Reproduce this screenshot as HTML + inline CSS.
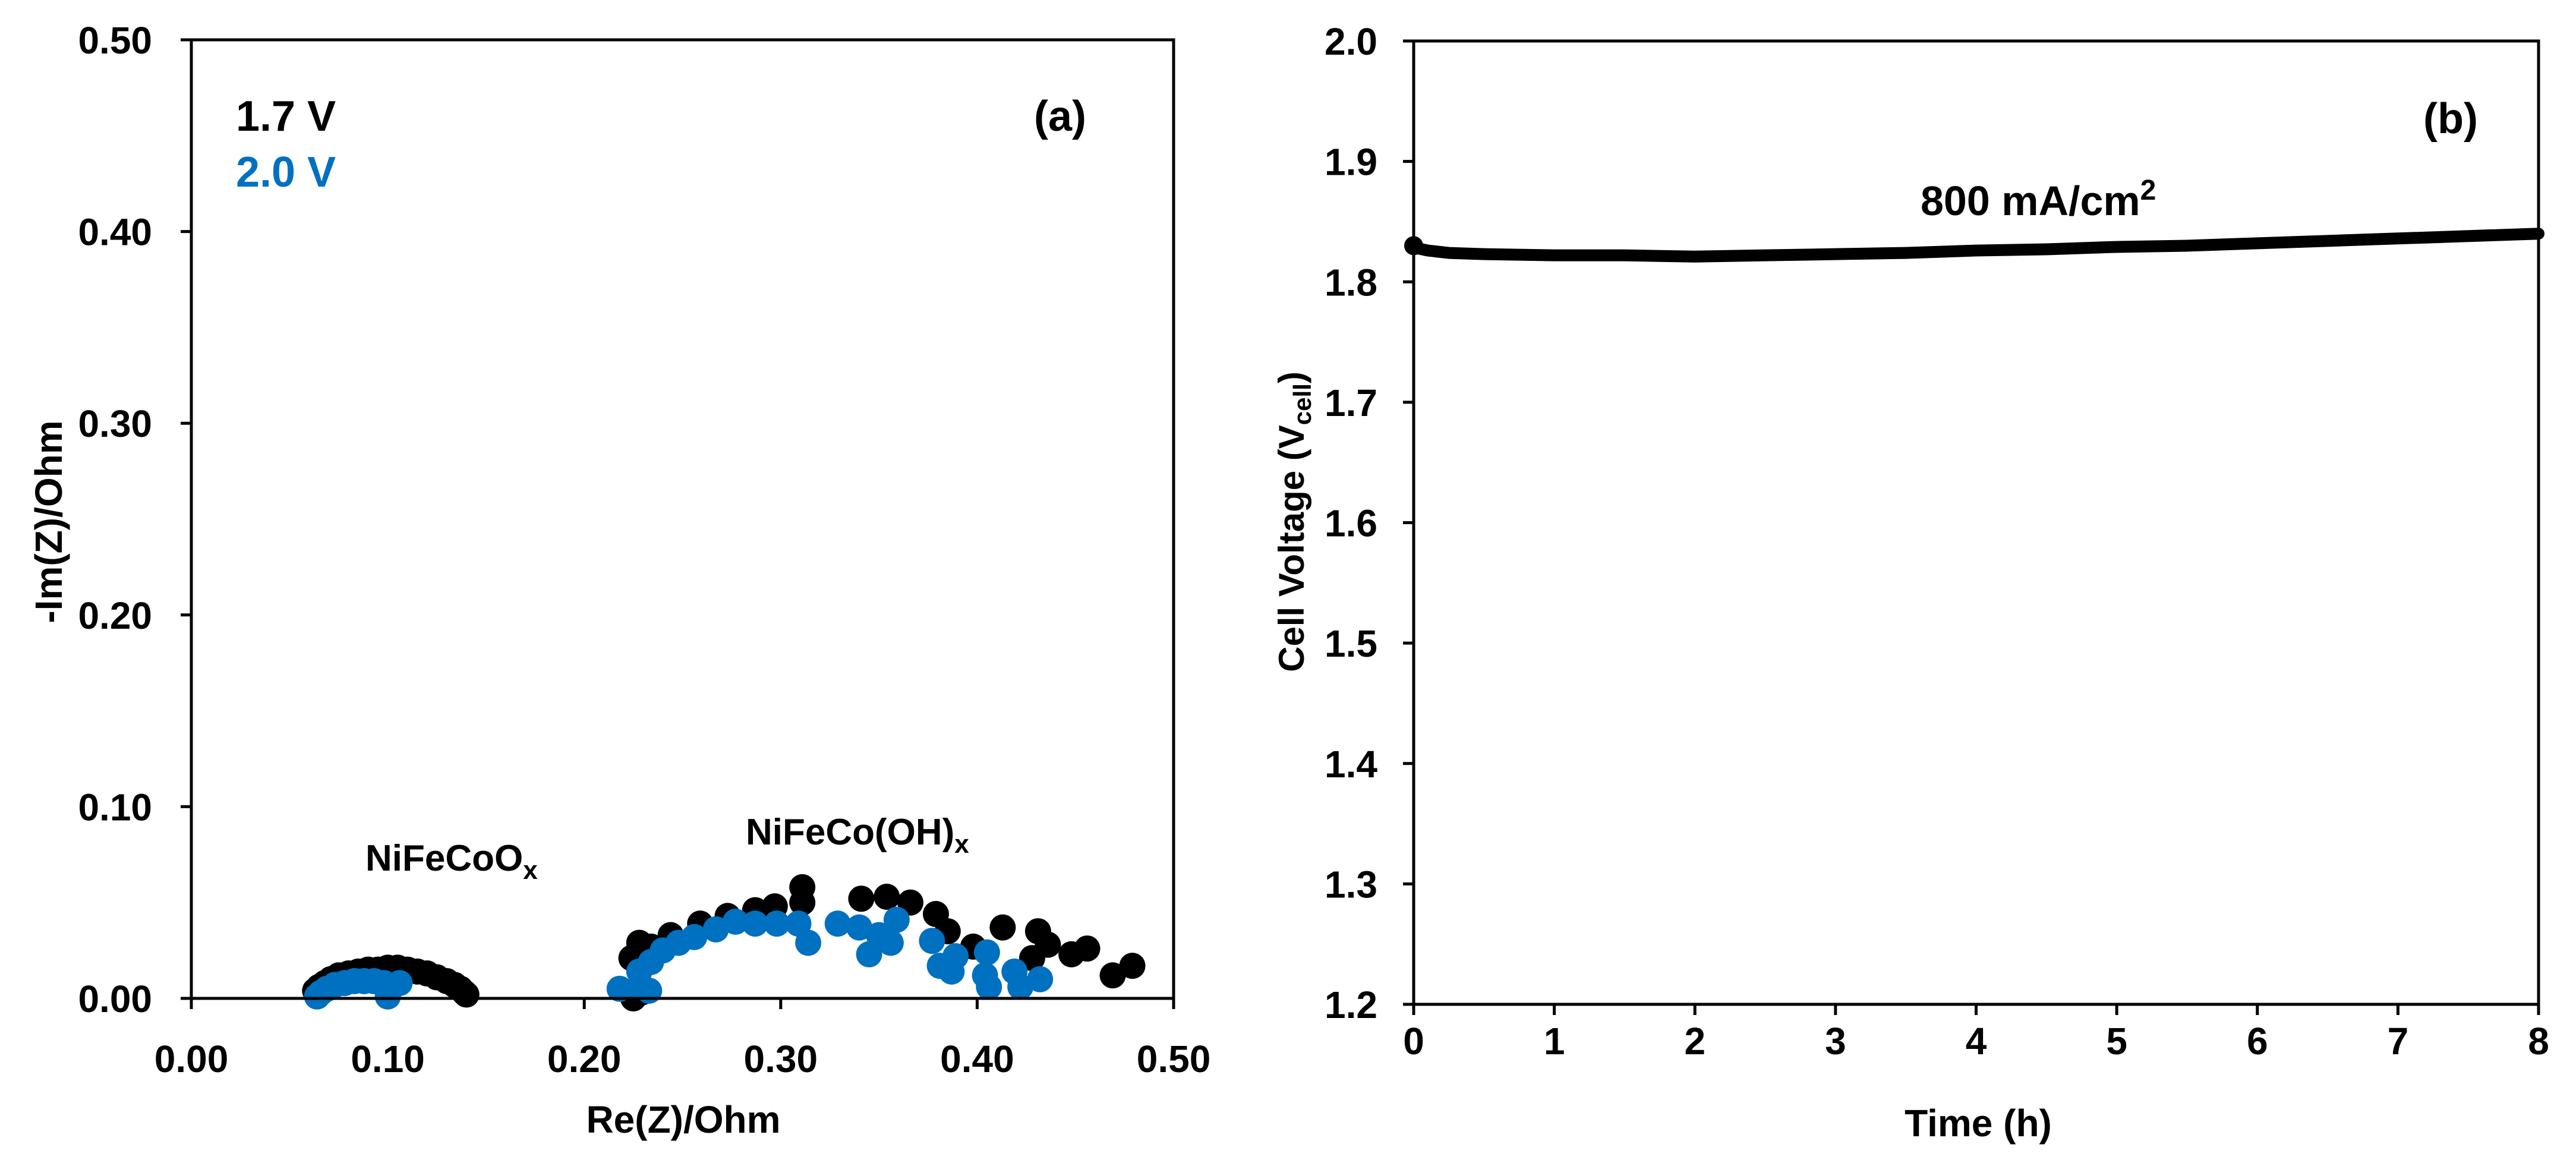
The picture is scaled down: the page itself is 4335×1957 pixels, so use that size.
<!DOCTYPE html>
<html><head><meta charset="utf-8"><style>
html,body{margin:0;padding:0;background:#fff;}
svg{display:block;font-family:"Liberation Sans",sans-serif;font-weight:bold;}
</style></head><body>
<svg id="chart" width="4335" height="1957" viewBox="0 0 4335 1957" xmlns="http://www.w3.org/2000/svg">
<g id="pa"></g>
<g id="pb"></g>
</svg>
<script>
const aXTicks=["0.00","0.10","0.20","0.30","0.40","0.50"];
const aYTicks=["0.00","0.10","0.20","0.30","0.40","0.50"];
const black17X=[0.063,0.065,0.068,0.071,0.075,0.08,0.085,0.09,0.095,0.1,0.105,0.11,0.115,0.12,0.125,0.13,0.134,0.137,0.139,0.14,
0.225,0.229,0.224,0.228,0.234,0.244,0.259,0.273,0.287,0.297,0.311,0.311,0.341,0.354,0.366,0.379,0.385,0.398,0.413,0.431,0.436,0.428,0.448,0.456,0.469,0.479];
const black17Y=[0.004,0.006,0.008,0.010,0.012,0.013,0.014,0.015,0.015,0.016,0.016,0.015,0.014,0.013,0.011,0.009,0.007,0.005,0.003,0.002,
0.0,0.003,0.021,0.029,0.027,0.033,0.039,0.043,0.046,0.048,0.058,0.050,0.052,0.053,0.050,0.044,0.035,0.027,0.037,0.035,0.028,0.021,0.023,0.026,0.012,0.017];
const blue20X=[0.064,0.066,0.069,0.073,0.078,0.083,0.088,0.093,0.098,0.102,0.1,0.106,
0.218,0.228,0.233,0.228,0.234,0.24,0.248,0.256,0.267,0.277,0.287,0.298,0.309,0.314,0.329,0.34,0.345,0.35,0.356,0.359,0.377,0.381,0.387,0.389,0.405,0.404,0.406,0.419,0.422,0.432];
const blue20Y=[0.001,0.003,0.005,0.007,0.008,0.009,0.009,0.009,0.008,0.006,0.001,0.008,
0.005,0.006,0.004,0.014,0.019,0.025,0.029,0.032,0.036,0.040,0.039,0.039,0.039,0.029,0.039,0.037,0.023,0.033,0.029,0.041,0.030,0.017,0.014,0.022,0.024,0.012,0.006,0.014,0.006,0.010];
const bXTicks=["0","1","2","3","4","5","6","7","8"];
const bYTicks=["1.2","1.3","1.4","1.5","1.6","1.7","1.8","1.9","2.0"];
const timeH=[0,0.02,0.1,0.25,0.5,1,1.5,2,2.5,3,3.5,4,4.5,5,5.5,6,6.5,7,7.5,8];
const voltV=[1.830,1.828,1.826,1.824,1.823,1.822,1.822,1.821,1.822,1.823,1.824,1.826,1.827,1.829,1.830,1.832,1.834,1.836,1.838,1.840];

const NS="http://www.w3.org/2000/svg";
function mk(p,t,a){const e=document.createElementNS(NS,t);for(const k in a)e.setAttribute(k,a[k]);p.appendChild(e);return e;}

// Panel A
const pa=document.getElementById('pa');
const AX0=322,AX1=1975,AY0=1680,AY1=67;
const ax=v=>AX0+(v/0.5)*(AX1-AX0);
const ay=v=>AY0-(v/0.5)*(AY0-AY1);
aXTicks.forEach(t=>{const v=parseFloat(t);
 const l=mk(pa,'line',{x1:ax(v),x2:ax(v),y1:AY0,y2:AY0+18,stroke:'#000','stroke-width':5});
 
 
 const tx=mk(pa,'text',{x:ax(v),y:1804,'font-size':64,'text-anchor':'middle'});tx.textContent=t;
 
 });
aYTicks.forEach(t=>{const v=parseFloat(t);
 const l=mk(pa,'line',{x1:AX0-18,x2:AX0,y1:ay(v),y2:ay(v),stroke:'#000','stroke-width':5});
 
 
 const tx=mk(pa,'text',{x:256,y:ay(v)+23,'font-size':64,'text-anchor':'end'});tx.textContent=t;
 
 });
black17X.forEach((x,i)=>{const c=mk(pa,'circle',{cx:ax(x),cy:ay(black17Y[i]),r:22,fill:'#000'});
 
 });
blue20X.forEach((x,i)=>{const c=mk(pa,'circle',{cx:ax(x),cy:ay(blue20Y[i]),r:22,fill:'#0070C0'});
 
 });
const fa=mk(pa,'rect',{x:AX0,y:AY1,width:AX1-AX0,height:AY0-AY1,fill:'none',stroke:'#000','stroke-width':5});



// Panel B
const pb=document.getElementById('pb');
const BX0=2379,BX1=4272,BY0=1690,BY1=69;
const bx=v=>BX0+(v/8)*(BX1-BX0);
const by=v=>BY0-((v-1.2)/0.8)*(BY0-BY1);
bXTicks.forEach(t=>{const v=parseFloat(t);
 const l=mk(pb,'line',{x1:bx(v),x2:bx(v),y1:BY0,y2:BY0+18,stroke:'#000','stroke-width':5});
 
 
 const tx=mk(pb,'text',{x:bx(v),y:1774,'font-size':64,'text-anchor':'middle'});tx.textContent=t;
 
 });
bYTicks.forEach(t=>{const v=parseFloat(t);
 const l=mk(pb,'line',{x1:BX0-18,x2:BX0,y1:by(v),y2:by(v),stroke:'#000','stroke-width':5});
 
 
 const tx=mk(pb,'text',{x:2318,y:by(v)+23,'font-size':64,'text-anchor':'end'});tx.textContent=t;
 
 });
const ln=mk(pb,'polyline',{points:timeH.map((t,i)=>bx(t)+','+by(voltV[i])).join(' '),fill:'none',stroke:'#000','stroke-width':20,'stroke-linecap':'round','stroke-linejoin':'round'});


const d0=mk(pb,'circle',{cx:bx(timeH[0]),cy:by(voltV[0]),r:16,fill:'#000'});


const fb=mk(pb,'rect',{x:BX0,y:BY1,width:BX1-BX0,height:BY0-BY1,fill:'none',stroke:'#000','stroke-width':5});


</script>
<svg style="position:absolute;left:0;top:0;font-family:'Liberation Sans',sans-serif;font-weight:bold" width="4335" height="1957">
<text x="397" y="220" font-size="72" fill="#000">1.7 V</text>
<text x="397" y="314" font-size="72" fill="#0070C0">2.0 V</text>
<text x="1740" y="220" font-size="72">(a)</text>
<text x="615" y="1465" font-size="62">NiFeCoO<tspan font-size="44" dy="14">x</tspan></text>
<text x="1255" y="1421" font-size="62">NiFeCo(OH)<tspan font-size="44" dy="14">x</tspan></text>
<text x="1150" y="1906" font-size="64" text-anchor="middle">Re(Z)/Ohm</text>
<text transform="translate(104,878) rotate(-90)" font-size="64" text-anchor="middle">-Im(Z)/Ohm</text>
<text x="4078" y="224" font-size="72">(b)</text>
<text x="3232" y="362" font-size="70">800 mA/cm<tspan font-size="48" dy="-26">2</tspan></text>
<text x="3329" y="1912" font-size="64" text-anchor="middle">Time (h)</text>
<text transform="translate(2194,878) rotate(-90)" font-size="60" text-anchor="middle">Cell Voltage (V<tspan font-size="42" dy="12">cell</tspan><tspan dy="-12">)</tspan></text>
</svg>
</body></html>
